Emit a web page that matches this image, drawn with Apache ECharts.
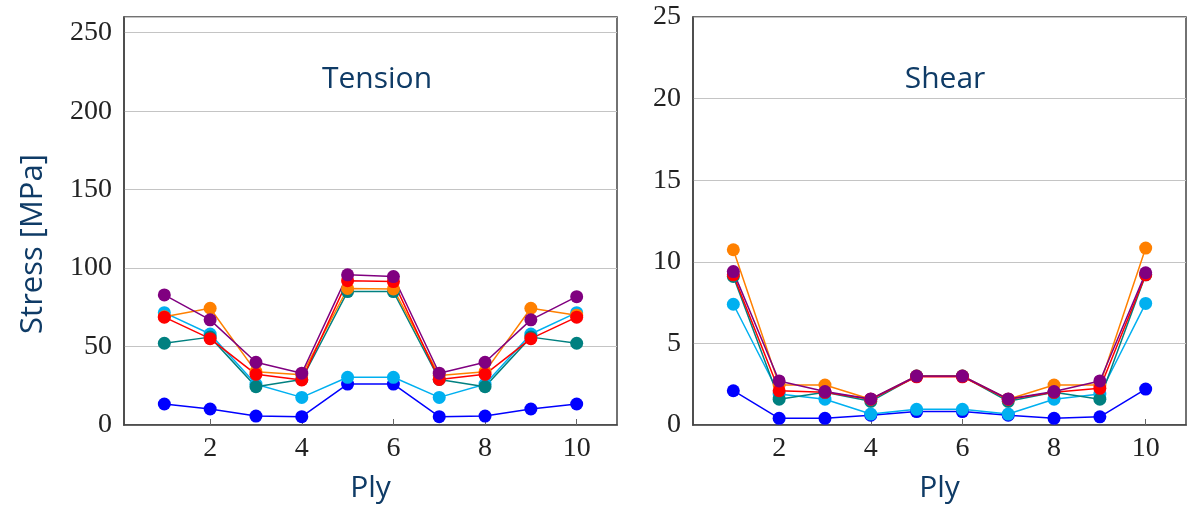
<!DOCTYPE html>
<html>
<head>
<meta charset="utf-8">
<script src="https://cdn.jsdelivr.net/npm/echarts@6/dist/echarts.min.js"></script>
<style>
  html, body { margin: 0; padding: 0; background: #fff; }
  #chart { width: 1197px; height: 506px; }
</style>
</head>
<body>
<div id="chart"></div>
<script>
// ply index along the laminate
const ply = [1, 2, 3, 4, 5, 6, 7, 8, 9, 10]

// tension stress per ply [MPa]
const tensionBlue      = [13.4, 10.2, 5.7, 5.3, 26.1, 26.1, 5.3, 5.7, 10.2, 13.4]
const tensionLightBlue = [71.6, 58, 26, 17.6, 30.4, 30.4, 17.6, 26, 58, 71.6]
const tensionTeal      = [52.1, 56, 24.4, 29, 85, 85, 29, 24.4, 56, 52.1]
const tensionOrange    = [69, 74.4, 34, 32, 87, 86.7, 31.5, 34, 74.4, 70]
const tensionRed       = [68.7, 55, 32.3, 28.7, 92, 91.4, 29, 32.3, 55, 68.7]
const tensionPurple    = [82.9, 67, 40, 33, 95.7, 94.6, 33, 40, 67, 81.8]

// shear stress per ply [MPa]
const shearBlue      = [2.1, 0.41, 0.41, 0.6, 0.82, 0.82, 0.6, 0.41, 0.5, 2.2]
const shearLightBlue = [7.4, 1.9, 1.58, 0.67, 0.96, 0.96, 0.67, 1.58, 1.9, 7.45]
const shearTeal      = [9.1, 1.58, 2.0, 1.45, 3.0, 3.0, 1.45, 2.0, 1.58, 9.2]
const shearOrange    = [10.74, 2.45, 2.45, 1.58, 3.0, 3.0, 1.58, 2.45, 2.45, 10.84]
const shearRed       = [9.2, 2.1, 2.0, 1.58, 2.95, 2.95, 1.58, 2.0, 2.25, 9.2]
const shearPurple    = [9.4, 2.7, 2.05, 1.6, 3.0, 3.0, 1.6, 2.05, 2.7, 9.33]

const xTicks = [2, 4, 6, 8, 10]
const seriesColors = ['#0000ff', '#00b0f0', '#008080', '#ff8000', '#ff0000', '#800080']

const navy = '#0f3b66'
const tickFont = { fontFamily: 'Liberation Serif', fontSize: 28, color: '#222' }

const tensionSets = [tensionBlue, tensionLightBlue, tensionTeal, tensionOrange, tensionRed, tensionPurple]
const shearSets = [shearBlue, shearLightBlue, shearTeal, shearOrange, shearRed, shearPurple]

function makeSeries(sets, axisIndex) {
  return sets.map((vals, i) => ({
    type: 'line',
    xAxisIndex: axisIndex,
    yAxisIndex: axisIndex,
    data: ply.map((p, k) => [p, vals[k]]),
    symbol: 'circle',
    symbolSize: 13,
    color: seriesColors[i],
    lineStyle: { width: 1.5 },
    animation: false
  }))
}

function makeXAxis(gridIndex) {
  return {
    type: 'value',
    gridIndex,
    min: 0.12,
    max: 10.88,
    name: 'Ply',
    nameLocation: 'middle',
    nameGap: 48,
    nameTextStyle: { fontFamily: 'Open Sans', fontSize: 30, color: navy },
    axisLine: { show: true, onZero: false, lineStyle: { color: '#444', width: 1.5 } },
    axisTick: { show: true, inside: true, length: 6, customValues: xTicks, lineStyle: { color: '#666' } },
    axisLabel: { customValues: xTicks, margin: 10, ...tickFont },
    splitLine: { show: false }
  }
}

function makeYAxis(gridIndex, max, interval) {
  return {
    type: 'value',
    gridIndex,
    min: 0,
    max,
    interval,
    axisLine: { show: true, lineStyle: { color: '#444', width: 1.5 } },
    axisTick: { show: false },
    axisLabel: {
      margin: 12,
      ...tickFont,
      formatter: v => (v % interval === 0 ? String(v) : '')
    },
    splitLine: { show: true, lineStyle: { color: '#c4c4c4', width: 1.2 } }
  }
}

const titleStyle = { fontFamily: 'Open Sans', fontSize: 30, fill: navy, textAlign: 'center', textVerticalAlign: 'middle' }

const chart = echarts.init(document.getElementById('chart'))
chart.setOption({
  backgroundColor: '#fff',
  animation: false,
  graphic: [
    { type: 'text', x: 377, y: 79, style: { text: 'Tension', ...titleStyle } },
    { type: 'text', x: 945, y: 79, style: { text: 'Shear', ...titleStyle } },
    { type: 'text', x: 33, y: 244, rotation: Math.PI / 2, style: { text: 'Stress [MPa]', ...titleStyle, fontSize: 31 } }
  ],
  grid: [
    { left: 124, top: 17, width: 493, height: 408, show: true, borderColor: '#444', borderWidth: 1.5, outerBoundsMode: 'none' },
    { left: 693, top: 17, width: 493, height: 408, show: true, borderColor: '#444', borderWidth: 1.5, outerBoundsMode: 'none' }
  ],
  xAxis: [makeXAxis(0), makeXAxis(1)],
  yAxis: [makeYAxis(0, 260, 50), makeYAxis(1, 25, 5)],
  series: [...makeSeries(tensionSets, 0), ...makeSeries(shearSets, 1)]
})
</script>
</body>
</html>
